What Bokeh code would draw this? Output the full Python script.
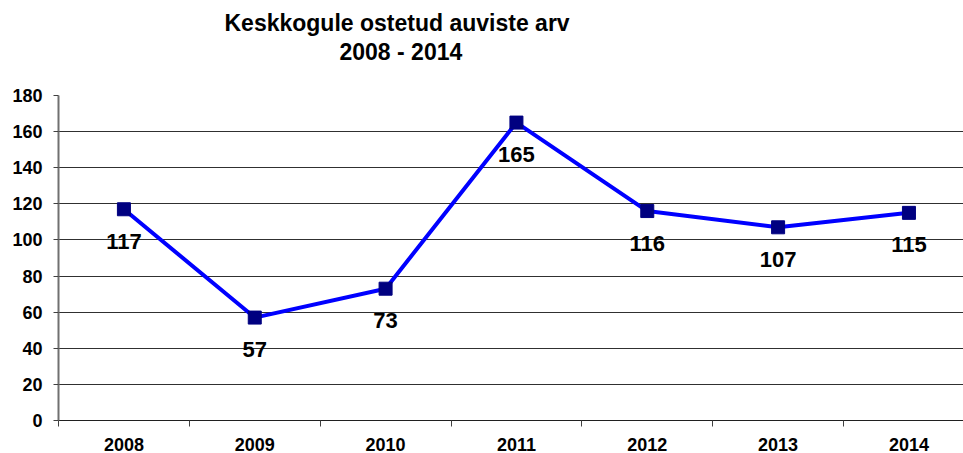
from bokeh.plotting import figure
from bokeh.models import FixedTicker, Range1d, Title
from bokeh.core.properties import value
from bokeh.embed import file_html
from bokeh.resources import INLINE

years = ["2008", "2009", "2010", "2011", "2012", "2013", "2014"]
counts = [117, 57, 73, 165, 116, 107, 115]
title_lines = ["Keskkogule ostetud auviste arv", "2008 - 2014"]
y_ticks = [0, 20, 40, 60, 80, 100, 120, 140, 160, 180]

FONT = "Liberation Sans"

xs = [i + 0.5 for i in range(len(years))]

p = figure(width=963, height=453, output_backend="svg", toolbar_location=None,
           x_range=Range1d(0, 6.917), y_range=Range1d(0, 180),
           min_border_left=58, min_border_right=0, min_border_top=95, min_border_bottom=32)
p.outline_line_color = None
p.background_fill_color = "white"
p.border_fill_color = "white"

# grid
p.xgrid.grid_line_color = None
p.ygrid.ticker = FixedTicker(ticks=y_ticks)
p.ygrid.grid_line_color = "#303030"
p.ygrid.grid_line_width = 1

# y axis
p.yaxis.ticker = FixedTicker(ticks=y_ticks)
p.yaxis.axis_line_color = "#707070"
p.yaxis.axis_line_width = 2
p.yaxis.major_tick_line_color = "#404040"
p.yaxis.major_tick_out = 5
p.yaxis.major_tick_in = 0
p.yaxis.minor_tick_line_color = None
p.yaxis.major_label_text_font = FONT
p.yaxis.major_label_text_font_style = "bold"
p.yaxis.major_label_text_font_size = "18px"
p.yaxis.major_label_text_color = "black"
p.yaxis.major_label_standoff = 11

# x axis
p.xaxis.ticker = FixedTicker(ticks=xs, minor_ticks=list(range(0, len(years))))
p.xaxis.major_label_overrides = {x: y for x, y in zip(xs, years)}
p.xaxis.axis_line_color = "#202020"
p.xaxis.axis_line_width = 1
p.xaxis.major_tick_line_color = None
p.xaxis.major_tick_out = 0
p.xaxis.major_tick_in = 0
p.xaxis.minor_tick_line_color = "#404040"
p.xaxis.minor_tick_out = 6
p.xaxis.minor_tick_in = 0
p.xaxis.major_label_text_font = FONT
p.xaxis.major_label_text_font_style = "bold"
p.xaxis.major_label_text_font_size = "18px"
p.xaxis.major_label_text_color = "black"
p.xaxis.major_label_standoff = 11

# series
p.line(xs, counts, line_color="#0000FF", line_width=4)
p.scatter(xs, counts, marker="square", size=13, fill_color="#000080", line_color="#000080")
p.text(xs, counts, text=[str(c) for c in counts], y_offset=32,
       text_font=value(FONT), text_font_style="bold", text_font_size="22px",
       text_align="center", text_baseline="middle", text_color="black")

# title: panels above, first added is closest to the plot
p.add_layout(Title(text=" ", text_font_size="10px", standoff=18), "above")
p.add_layout(Title(text=title_lines[1], align="left", offset=281, standoff=0,
                   text_font=FONT, text_font_style="bold", text_font_size="23px",
                   text_color="black"), "above")
p.add_layout(Title(text=title_lines[0], align="left", offset=166, standoff=2,
                   text_font=FONT, text_font_style="bold", text_font_size="23px",
                   text_color="black"), "above")

open("out.html", "w").write(file_html(p, INLINE))
